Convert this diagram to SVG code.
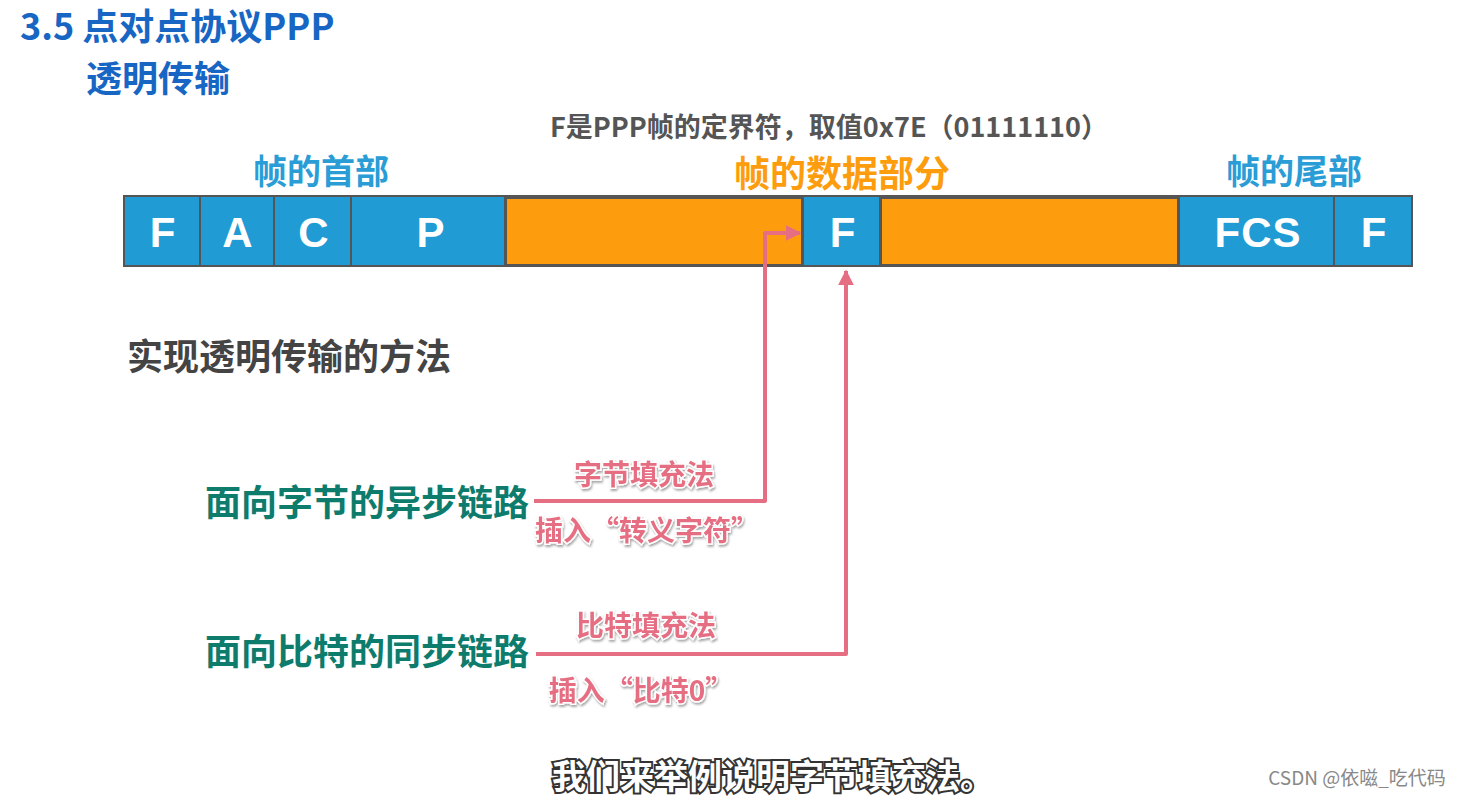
<svg xmlns="http://www.w3.org/2000/svg" width="1463" height="798" viewBox="0 0 1463 798">
<defs>
<style>
.cjk{font-family:"Noto Sans CJK SC","Liberation Sans",sans-serif;font-weight:700}
.title{fill:#1766c4;font-size:36px}
.hdr{fill:#2a9dd6;font-size:34px}
.cell{fill:#219bd4;stroke:#555;stroke-width:2}
.data{fill:#fd9d0e;stroke:#555;stroke-width:2}
.lt{font-family:"Liberation Sans",Arial,sans-serif;font-weight:700;fill:#fff;font-size:42px;text-anchor:middle;letter-spacing:1px}
.link{fill:#0d7c6c;font-size:36px}
.pk{fill:#e66e82;font-size:28px;stroke:#fff;stroke-width:3;paint-order:stroke;filter:url(#sh)}
.conn{fill:none;stroke:#e66e82;stroke-width:4;stroke-linejoin:round}
</style>
<filter id="sh" x="-10%" y="-30%" width="130%" height="180%">
<feDropShadow dx="1" dy="2" stdDeviation="1.2" flood-color="#000" flood-opacity="0.35"/>
</filter>
<marker id="ah" viewBox="0 0 10 10" refX="9" refY="5" markerWidth="4" markerHeight="4" orient="auto" markerUnits="strokeWidth">
<path d="M0,0 L10,5 L0,10 Z" fill="#e66e82"/>
</marker>
</defs>
<rect width="1463" height="798" fill="#fff"/>

<g id="title">
<text class="cjk title" x="20" y="40">3.5 点对点协议PPP</text>
<text class="cjk title" x="86" y="92">透明传输</text>
</g>

<g id="note">
<text class="cjk" x="829" y="137" text-anchor="middle" fill="#555" font-size="27">F是PPP帧的定界符，取值0x7E（01111110）</text>
</g>

<g id="headers">
<text class="cjk hdr" x="321" y="184" text-anchor="middle">帧的首部</text>
<text class="cjk" x="842" y="187" text-anchor="middle" fill="#fd9d0e" font-size="36">帧的数据部分</text>
<text class="cjk hdr" x="1294" y="184" text-anchor="middle">帧的尾部</text>
</g>

<g id="frame">
<rect x="123" y="195" width="1289" height="72" fill="#555"/>
<g id="cell-F1"><rect class="cell" x="124" y="196" width="76" height="70"/><text class="lt" x="163" y="247">F</text></g>
<g id="cell-A"><rect class="cell" x="200" y="196" width="74" height="70"/><text class="lt" x="238" y="247">A</text></g>
<g id="cell-C"><rect class="cell" x="274" y="196" width="77" height="70"/><text class="lt" x="314" y="247">C</text></g>
<g id="cell-P"><rect class="cell" x="351" y="196" width="154" height="70"/><text class="lt" x="431" y="247">P</text></g>
<g id="data1"><rect class="data" x="506" y="198" width="296" height="67"/></g>
<g id="cell-F2"><rect class="cell" x="803" y="196" width="77" height="70"/><text class="lt" x="843" y="247">F</text></g>
<g id="data2"><rect class="data" x="881" y="198" width="297" height="67"/></g>
<g id="cell-FCS"><rect class="cell" x="1179" y="196" width="155" height="70"/><text class="lt" x="1258" y="247">FCS</text></g>
<g id="cell-F3"><rect class="cell" x="1334" y="196" width="78" height="70"/><text class="lt" x="1374" y="247">F</text></g>
</g>

<g id="method">
<text class="cjk" x="127" y="370" fill="#444" font-size="36">实现透明传输的方法</text>
</g>

<g id="async">
<text class="cjk link" x="205" y="516">面向字节的异步链路</text>
</g>
<g id="sync">
<text class="cjk link" x="205" y="665">面向比特的同步链路</text>
</g>

<g id="connectors">
<path class="conn" d="M534,501 H765 V233 H800" marker-end="url(#ah)"/>
<path class="conn" d="M536,654 H846 V271" marker-end="url(#ah)"/>
</g>

<g id="labels">
<text class="cjk pk" x="644" y="485" text-anchor="middle">字节填充法</text>
<text class="cjk pk" x="647" y="541" text-anchor="middle">插入“转义字符”</text>
<text class="cjk pk" x="646" y="636" text-anchor="middle">比特填充法</text>
<text class="cjk pk" x="641" y="701" text-anchor="middle" font-size="27">插入“比特0”</text>
</g>

<g id="subtitle">
<text class="cjk" x="773" y="789" text-anchor="middle" font-size="34" font-weight="400" fill="#fff" stroke="#333" stroke-width="4" paint-order="stroke">我们来举例说明字节填充法。</text>
<text x="1357" y="785" text-anchor="middle" font-family="Noto Sans CJK SC,Liberation Sans,sans-serif" font-size="19" fill="#888">CSDN @依嗞_吃代码</text>
</g>
</svg>
